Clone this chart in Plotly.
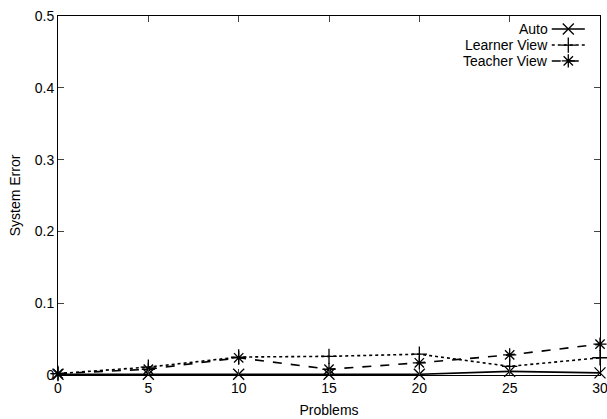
import plotly.graph_objects as go

problems = [0, 5, 10, 15, 20, 25, 30]
auto = [0.001, 0.001, 0.001, 0.001, 0.001, 0.005, 0.003]
learner = [0.002, 0.011, 0.025, 0.026, 0.029, 0.012, 0.024]
teacher = [0.002, 0.008, 0.024, 0.008, 0.017, 0.028, 0.043]
series_names = ["Auto", "Learner View", "Teacher View"]
x_ticks = [0, 5, 10, 15, 20, 25, 30]
y_ticks = [0, 0.1, 0.2, 0.3, 0.4, 0.5]
y_tick_text = ["0", "0.1", "0.2", "0.3", "0.4", "0.5"]

styles = [
    dict(dash="solid", symbol="x-thin-open", width=1.6),
    dict(dash="dot", symbol="cross-thin-open", width=1.6),
    dict(dash="dash", symbol="asterisk-open", width=1.6),
]
font = "Liberation Sans, Arial, sans-serif"
fs = 14

fig = go.Figure()
for name, ys, st in zip(series_names, [auto, learner, teacher], styles):
    fig.add_trace(go.Scatter(
        x=problems, y=ys, name=name, mode="lines+markers",
        line=dict(color="black", width=st["width"], dash=st["dash"]),
        marker=dict(symbol=st["symbol"], size=11, color="black",
                    line=dict(color="black", width=1.3)),
        showlegend=False, cliponaxis=False,
    ))

# Manual gnuplot-style legend (text, then sample to the right)
leg_y = [0.964, 0.919, 0.875]
for name, yy, st in zip(series_names, leg_y, styles):
    fig.add_annotation(x=0.904, y=yy, xref="paper", yref="paper", text=name,
                       showarrow=False, xanchor="right", yanchor="middle",
                       xshift=2,
                       font=dict(family=font, size=fs, color="black"))
    fig.add_shape(type="line", xref="paper", yref="paper",
                  x0=0.911, x1=0.972, y0=yy, y1=yy,
                  line=dict(color="black", width=1.5, dash=st["dash"]))
    fig.add_trace(go.Scatter(
        x=[0.9415], y=[yy], xaxis="x2", yaxis="y2", mode="markers",
        marker=dict(symbol=st["symbol"], size=11, color="black",
                    line=dict(color="black", width=1.3)),
        showlegend=False, hoverinfo="skip",
    ))

fig.update_layout(
    width=607, height=419,
    margin=dict(l=58, r=7, t=16, b=44),
    paper_bgcolor="white", plot_bgcolor="white",
    font=dict(family=font, size=fs, color="black"),
    xaxis=dict(range=[0, 30], tickvals=x_ticks, ticks="inside", ticklen=6,
               showline=True, linecolor="black", linewidth=1, mirror="allticks",
               showgrid=False, zeroline=False, automargin=False,
               ticklabeloverflow="allow",
               title=dict(text="Problems", font=dict(size=fs), standoff=10),
               tickfont=dict(size=fs)),
    yaxis=dict(range=[0, 0.5], tickvals=y_ticks, ticktext=y_tick_text,
               ticks="inside", ticklen=6,
               showline=True, linecolor="black", linewidth=1, mirror="allticks",
               showgrid=False, zeroline=False, automargin=False,
               ticklabeloverflow="allow",
               title=dict(text="System Error", font=dict(size=fs), standoff=10),
               tickfont=dict(size=fs)),
    xaxis2=dict(range=[0, 1], overlaying="x", visible=False, automargin=False),
    yaxis2=dict(range=[0, 1], overlaying="y", visible=False, automargin=False),
)

fig.write_html("out.html", config={"displayModeBar": False},
               post_script="document.body.style.margin='0';")
